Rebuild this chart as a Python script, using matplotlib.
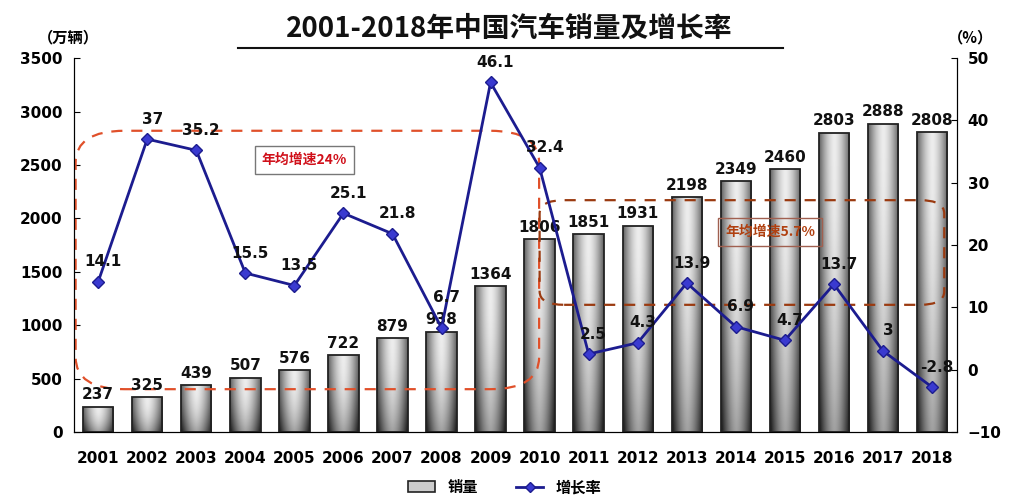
import numpy as np
import matplotlib
matplotlib.use('Agg')
import matplotlib.pyplot as plt
from matplotlib.patches import FancyBboxPatch, Rectangle
from matplotlib.lines import Line2D

plt.rcParams['font.family'] = ['Noto Sans CJK SC', 'DejaVu Sans']
plt.rcParams['font.weight'] = 'bold'

# Data
years = ['2001', '2002', '2003', '2004', '2005', '2006', '2007', '2008', '2009',
         '2010', '2011', '2012', '2013', '2014', '2015', '2016', '2017', '2018']
sales = [237, 325, 439, 507, 576, 722, 879, 938, 1364,
         1806, 1851, 1931, 2198, 2349, 2460, 2803, 2888, 2808]
growth = [14.1, 37, 35.2, 15.5, 13.5, 25.1, 21.8, 6.7, 46.1,
          32.4, 2.5, 4.3, 13.9, 6.9, 4.7, 13.7, 3, -2.8]
growth_labels = ['14.1', '37', '35.2', '15.5', '13.5', '25.1', '21.8', '6.7', '46.1',
                 '32.4', '2.5', '4.3', '13.9', '6.9', '4.7', '13.7', '3', '-2.8']

fig = plt.figure(figsize=(10.09, 4.97), dpi=100)
ax = fig.add_axes([0.073, 0.131, 0.875, 0.752])
ax2 = ax.twinx()

x = np.arange(len(years))
bars = ax.bar(x, sales, width=0.62, color='none', edgecolor='#222222', linewidth=1.3, zorder=3)

# gray gradient fill for each bar (dark edges, light centre)
gx = np.linspace(-1, 1, 64)
gy = np.linspace(0, 1, 64)
GX, GY = np.meshgrid(gx, gy)
grad = 0.93 - 0.55 * np.abs(GX) ** 1.6 - 0.3 * (1 - GY) ** 2
for b in bars:
    x0, w, h = b.get_x(), b.get_width(), b.get_height()
    im = ax.imshow(grad, extent=[x0, x0 + w, 0, h], origin='lower', aspect='auto',
                   cmap='gray', vmin=0, vmax=1, zorder=2, interpolation='bilinear')
    im.set_clip_path(b)

for xi, v in zip(x, sales):
    ax.text(xi, v + 40, str(v), ha='center', va='bottom', fontsize=11,
            fontweight='bold', color='#111111', family='DejaVu Sans', zorder=6)

ax.set_xlim(-0.5, 17.5)
ax.set_ylim(0, 3500)
ax.set_yticks(np.arange(0, 3501, 500))
ax.set_xticks(x)
ax.set_xticklabels(years, fontsize=11, fontweight='bold', family='DejaVu Sans')
ax.tick_params(axis='x', length=0, pad=14)
ax.tick_params(axis='y', labelsize=11, length=4, direction='in', pad=8)
for lab in ax.get_yticklabels():
    lab.set_fontweight('bold')
    lab.set_family('DejaVu Sans')
ax.spines['top'].set_visible(False)

# growth line
ax2.plot(x, growth, color='#1c1c8f', linewidth=2, marker='D', markersize=6,
         markerfacecolor='#3a3ad0', markeredgecolor='#1c1c8f', zorder=5)
for xi, v, s in zip(x, growth, growth_labels):
    dy = 3.6 if s == '6.7' else 2.0
    ax2.text(xi + 0.1, v + dy, s, ha='center', va='bottom', fontsize=11,
             fontweight='bold', color='#111111', family='DejaVu Sans', zorder=7)
ax2.set_ylim(-10, 50)
ax2.set_yticks(np.arange(-10, 51, 10))
ax2.tick_params(axis='y', labelsize=11, length=4, direction='in', pad=8)
for lab in ax2.get_yticklabels():
    lab.set_fontweight('bold')
    lab.set_family('DejaVu Sans')
ax2.spines['top'].set_visible(False)

# dashed rounded boxes marking the two periods
box1 = FancyBboxPatch((-0.46, 400), 9.45, 2420, boxstyle='round,pad=0,rounding_size=1.0',
                      mutation_aspect=300, fill=False, edgecolor='#e0502a',
                      linestyle=(0, (5, 4)), linewidth=1.6, zorder=4)
ax.add_patch(box1)
box2 = FancyBboxPatch((9.0, 1190), 8.25, 980, boxstyle='round,pad=0,rounding_size=0.5',
                      mutation_aspect=250, fill=False, edgecolor='#9a3a10',
                      linestyle=(0, (5, 4)), linewidth=1.6, zorder=4)
ax.add_patch(box2)
ax.text(4.2, 2545, '年均增速24%', ha='center', va='center', fontsize=10,
        fontweight='bold', color='#d0101a', zorder=8,
        bbox=dict(boxstyle='square,pad=0.5', facecolor='white', edgecolor='#777777', linewidth=1))
ax.text(13.7, 1870, '年均增速5.7%', ha='center', va='center', fontsize=10,
        fontweight='bold', color='#b04010', zorder=8,
        bbox=dict(boxstyle='square,pad=0.5', facecolor='none', edgecolor='#a06050', linewidth=1))

# title and unit labels
fig.text(0.505, 0.942, '2001-2018年中国汽车销量及增长率', ha='center', va='center',
         fontsize=20, fontweight='bold', color='#111111')
fig.add_artist(Line2D([0.236, 0.776], [0.903, 0.903], color='#111111', linewidth=1.5))
fig.text(0.068, 0.925, '（万辆）', ha='center', va='center', fontsize=11, fontweight='bold')
fig.text(0.962, 0.925, '（%）', ha='center', va='center', fontsize=11, fontweight='bold')

# legend
h_bar = Rectangle((0, 0), 1, 1, facecolor='#cccccc', edgecolor='#222222', linewidth=1.2)
h_line = Line2D([], [], color='#1c1c8f', linewidth=2, marker='D', markersize=5,
                markerfacecolor='#3a3ad0')
fig.legend([h_bar, h_line], ['销量', '增长率'], loc='center', bbox_to_anchor=(0.5, 0.02),
           ncol=2, frameon=False, fontsize=11, handlelength=1.8, columnspacing=2.5)

fig.savefig('out.png', dpi=100)
